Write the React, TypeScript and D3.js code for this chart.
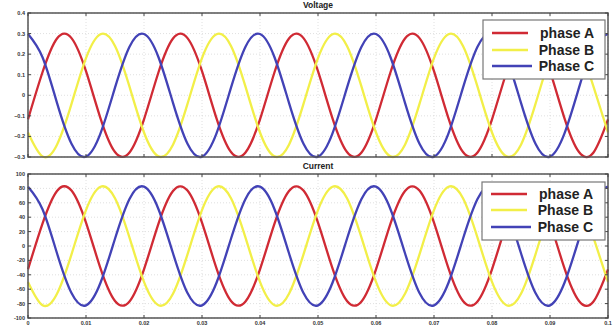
import React from "react";
import * as d3 from "d3";

// Sample instants (s), one every 2.5 ms over 0.1 s
const times = [
  0, 0.0025, 0.005, 0.0075, 0.01, 0.0125, 0.015, 0.0175, 0.02, 0.0225,
  0.025, 0.0275, 0.03, 0.0325, 0.035, 0.0375, 0.04, 0.0425, 0.045, 0.0475,
  0.05, 0.0525, 0.055, 0.0575, 0.06, 0.0625, 0.065, 0.0675, 0.07, 0.0725,
  0.075, 0.0775, 0.08, 0.0825, 0.085, 0.0875, 0.09, 0.0925, 0.095, 0.0975, 0.1,
];

// Phase voltages
const voltageA = [
  -0.117, 0.112, 0.276, 0.278, 0.117, -0.112, -0.276, -0.278,
  -0.117, 0.112, 0.276, 0.278, 0.117, -0.112, -0.276, -0.278,
  -0.117, 0.112, 0.276, 0.278, 0.117, -0.112, -0.276, -0.278,
  -0.117, 0.112, 0.276, 0.278, 0.117, -0.112, -0.276, -0.278,
  -0.117, 0.112, 0.276, 0.278, 0.117, -0.112, -0.276, -0.278,
  -0.117,
];
const voltageB = [
  -0.181, -0.297, -0.24, -0.042, 0.181, 0.297, 0.24, 0.042,
  -0.181, -0.297, -0.24, -0.042, 0.181, 0.297, 0.24, 0.042,
  -0.181, -0.297, -0.24, -0.042, 0.181, 0.297, 0.24, 0.042,
  -0.181, -0.297, -0.24, -0.042, 0.181, 0.297, 0.24, 0.042,
  -0.181, -0.297, -0.24, -0.042, 0.181, 0.297, 0.24, 0.042,
  -0.181,
];
const voltageC = [
  0.298, 0.185, -0.037, -0.236, -0.298, -0.185, 0.037, 0.236,
  0.298, 0.185, -0.037, -0.236, -0.298, -0.185, 0.037, 0.236,
  0.298, 0.185, -0.037, -0.236, -0.298, -0.185, 0.037, 0.236,
  0.298, 0.185, -0.037, -0.236, -0.298, -0.185, 0.037, 0.236,
  0.298, 0.185, -0.037, -0.236, -0.298, -0.185, 0.037, 0.236,
  0.298,
];

// Phase currents
const currentA = [
  -32.4, 31.1, 76.4, 77.0, 32.4, -31.1, -76.4, -77.0,
  -32.4, 31.1, 76.4, 77.0, 32.4, -31.1, -76.4, -77.0,
  -32.4, 31.1, 76.4, 77.0, 32.4, -31.1, -76.4, -77.0,
  -32.4, 31.1, 76.4, 77.0, 32.4, -31.1, -76.4, -77.0,
  -32.4, 31.1, 76.4, 77.0, 32.4, -31.1, -76.4, -77.0,
  -32.4,
];
const currentB = [
  -49.9, -82.2, -66.3, -11.6, 49.9, 82.2, 66.3, 11.6,
  -49.9, -82.2, -66.3, -11.6, 49.9, 82.2, 66.3, 11.6,
  -49.9, -82.2, -66.3, -11.6, 49.9, 82.2, 66.3, 11.6,
  -49.9, -82.2, -66.3, -11.6, 49.9, 82.2, 66.3, 11.6,
  -49.9, -82.2, -66.3, -11.6, 49.9, 82.2, 66.3, 11.6,
  -49.9,
];
const currentC = [
  82.4, 51.1, -10.1, -65.4, -82.4, -51.1, 10.1, 65.4,
  82.4, 51.1, -10.1, -65.4, -82.4, -51.1, 10.1, 65.4,
  82.4, 51.1, -10.1, -65.4, -82.4, -51.1, 10.1, 65.4,
  82.4, 51.1, -10.1, -65.4, -82.4, -51.1, 10.1, 65.4,
  82.4, 51.1, -10.1, -65.4, -82.4, -51.1, 10.1, 65.4,
  82.4,
];

const seriesNames = ["phase A", "Phase B", "Phase C"];
const seriesColors = ["#d02a34", "#f2ef48", "#4242b6"];

const xTicks = [0, 0.01, 0.02, 0.03, 0.04, 0.05, 0.06, 0.07, 0.08, 0.09, 0.1];
const voltageTicks = [-0.3, -0.2, -0.1, 0, 0.1, 0.2, 0.3, 0.4];
const currentTicks = [-100, -80, -60, -40, -20, 0, 20, 40, 60, 80, 100];

const W = 616;
const H = 326;
const left = 28;
const right = 608;

type PanelProps = {
  title: string;
  top: number;
  bottom: number;
  domain: [number, number];
  yTicks: number[];
  series: number[][];
  showXLabels: boolean;
  legendBox: { x: number; y: number; w: number; h: number; rows: number[] };
  fmtY: (v: number) => string;
};

const xScale = d3.scaleLinear().domain([0, 0.1]).range([left, right]);

function Panel(p: PanelProps) {
  const y = d3.scaleLinear().domain(p.domain).range([p.bottom, p.top]);
  const line = d3
    .line<number>()
    .x((_, i) => xScale(times[i]))
    .y((v) => y(v))
    .curve(d3.curveNatural);
  const fmtX = (v: number) => (v === 0 ? "0" : d3.format(".2~f")(v));
  const tl = 3;
  return (
    <g>
      <text
        x={(left + right) / 2}
        y={p.top - 5}
        textAnchor="middle"
        fontFamily="Liberation Sans, Arial, sans-serif"
        fontWeight="bold"
        fontSize={8.5}
        fill="#222"
      >
        {p.title}
      </text>
      <rect x={left} y={p.top} width={right - left} height={p.bottom - p.top} fill="#fff" />
      {/* grid */}
      {xTicks.map((t) => (
        <line
          key={"gx" + t}
          x1={xScale(t)}
          x2={xScale(t)}
          y1={p.top}
          y2={p.bottom}
          stroke="#d8d8d8"
          strokeWidth={0.8}
          strokeDasharray="1,2"
        />
      ))}
      {p.yTicks.map((t) => (
        <line
          key={"gy" + t}
          x1={left}
          x2={right}
          y1={y(t)}
          y2={y(t)}
          stroke="#d8d8d8"
          strokeWidth={0.8}
          strokeDasharray="1,2"
        />
      ))}
      {/* waveforms */}
      {p.series.map((s, i) => (
        <path
          key={"s" + i}
          d={line(s) || ""}
          fill="none"
          stroke={seriesColors[i]}
          strokeWidth={2.3}
        />
      ))}
      {/* axes box */}
      <rect
        x={left}
        y={p.top}
        width={right - left}
        height={p.bottom - p.top}
        fill="none"
        stroke="#555"
        strokeWidth={1.5}
      />
      {xTicks.map((t) => (
        <g key={"tx" + t}>
          <line x1={xScale(t)} x2={xScale(t)} y1={p.bottom} y2={p.bottom - tl} stroke="#444" />
          <line x1={xScale(t)} x2={xScale(t)} y1={p.top} y2={p.top + tl} stroke="#444" />
          {p.showXLabels && (
            <text
              x={xScale(t)}
              y={p.bottom + 7}
              textAnchor="middle"
              fontFamily="Liberation Sans, Arial, sans-serif"
              fontSize={5.5}
              fontWeight="bold"
              fill="#333"
            >
              {fmtX(t)}
            </text>
          )}
        </g>
      ))}
      {p.yTicks.map((t) => (
        <g key={"ty" + t}>
          <line x1={left} x2={left + tl} y1={y(t)} y2={y(t)} stroke="#444" />
          <line x1={right} x2={right - tl} y1={y(t)} y2={y(t)} stroke="#444" />
          <text
            x={left - 3}
            y={y(t) + 2}
            textAnchor="end"
            fontFamily="Liberation Sans, Arial, sans-serif"
            fontSize={5.5}
            fontWeight="bold"
            fill="#333"
          >
            {p.fmtY(t)}
          </text>
        </g>
      ))}
      {/* legend */}
      <rect
        x={p.legendBox.x}
        y={p.legendBox.y}
        width={p.legendBox.w}
        height={p.legendBox.h}
        fill="#fff"
        stroke="#777"
        strokeWidth={1.2}
      />
      {seriesNames.map((n, i) => (
        <g key={"lg" + i}>
          <line
            x1={p.legendBox.x + 9}
            x2={p.legendBox.x + (i === 2 ? 49 : 45)}
            y1={p.legendBox.rows[i]}
            y2={p.legendBox.rows[i]}
            stroke={seriesColors[i]}
            strokeWidth={2.4}
          />
          <text
            x={p.legendBox.x + 111}
            y={p.legendBox.rows[i] + 5}
            textAnchor="end"
            fontFamily="Liberation Sans, Arial, sans-serif"
            fontWeight="bold"
            fontSize={14}
            fill="#222"
          >
            {n}
          </text>
        </g>
      ))}
    </g>
  );
}

export default function App() {
  return (
    <svg
      width={W}
      height={H}
      style={{ position: "absolute", left: 0, top: 0, background: "#fff" }}
    >
      <rect width={W} height={H} fill="#fff" />
      <Panel
        title="Voltage"
        top={13}
        bottom={157}
        domain={[-0.3, 0.4]}
        yTicks={voltageTicks}
        series={[voltageA, voltageB, voltageC]}
        showXLabels={false}
        legendBox={{ x: 483, y: 20, w: 122, h: 59, rows: [33, 50, 66] }}
        fmtY={(v) => d3.format(".1~f")(v)}
      />
      <Panel
        title="Current"
        top={174}
        bottom={318}
        domain={[-100, 100]}
        yTicks={currentTicks}
        series={[currentA, currentB, currentC]}
        showXLabels={true}
        legendBox={{ x: 482, y: 182, w: 123, h: 58, rows: [194, 210, 227] }}
        fmtY={(v) => String(v)}
      />
    </svg>
  );
}
